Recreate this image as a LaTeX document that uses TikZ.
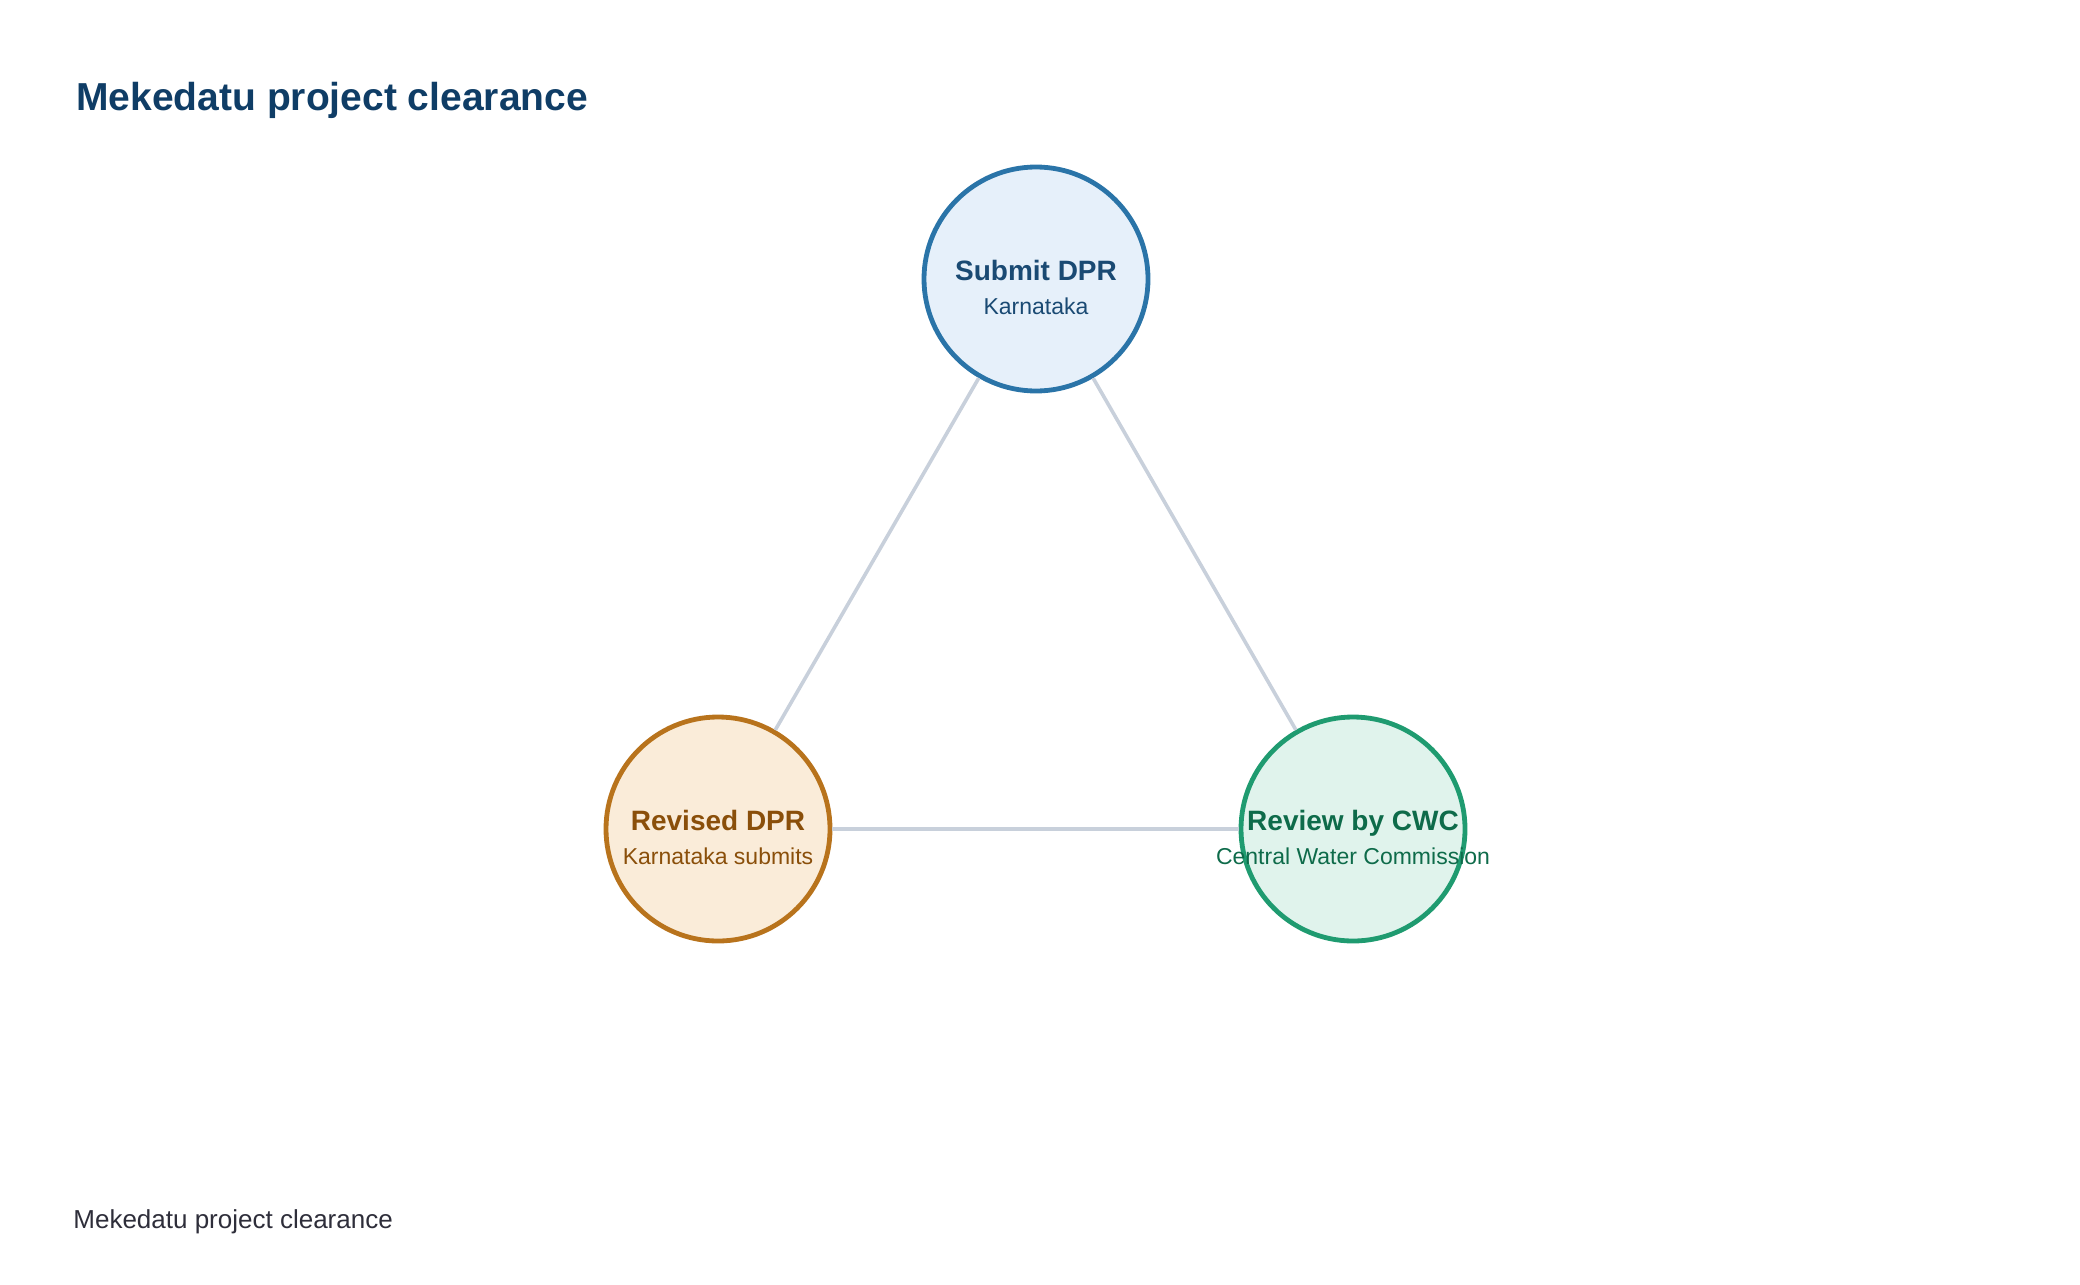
\documentclass[tikz,border=0pt]{standalone}
\usepackage{fontspec}
\setmainfont{Liberation Sans}
\definecolor{titleblue}{HTML}{0F3D66}
\definecolor{footgray}{HTML}{2E2E3A}
\definecolor{edgegray}{HTML}{C8D0DB}
\definecolor{dprfill}{HTML}{E6F0FA}
\definecolor{dprline}{HTML}{2A74A8}
\definecolor{dprtext}{HTML}{1A4A73}
\definecolor{revfill}{HTML}{FAECD9}
\definecolor{revline}{HTML}{B8731C}
\definecolor{revtext}{HTML}{8A4F0A}
\definecolor{cwcfill}{HTML}{E0F3EC}
\definecolor{cwcline}{HTML}{1F9B70}
\definecolor{cwctext}{HTML}{0E6B4A}
\tikzset{
	stage/.style = {circle, minimum size=112pt, inner sep=0pt, line width=2.4pt},
	headtext/.style = {anchor=base, inner sep=0pt, font=\fontsize{14}{16}\selectfont\bfseries},
	subtext/.style = {anchor=base, inner sep=0pt, font=\fontsize{11.5}{13}\selectfont},
	link/.style = {draw=edgegray, line width=1.8pt}
}
\begin{document}
\begin{tikzpicture}[x=0.5pt, y=-0.5pt]
	      	\useasboundingbox (0,0) rectangle (2080,1284);
	      	\node[anchor=base west, inner sep=0pt, text=titleblue, font=\fontsize{19.5}{22}\selectfont\bfseries] (title) at (76,111) {Mekedatu project clearance};
	      	\node[stage, draw=dprline, fill=dprfill] (DPR) at (1036,279) {};
	      	\node[stage, draw=revline, fill=revfill] (REV) at (718,829) {};
	      	\node[stage, draw=cwcline, fill=cwcfill] (CWC) at (1353,829) {};
	      	\draw[link] (DPR) -- (REV);
	      	\draw[link] (DPR) -- (CWC);
	      	\draw[link] (REV) -- (CWC);
	      	\node[headtext, text=dprtext] (DPR-h) at (1036,280) {Submit DPR};
	      	\node[subtext, text=dprtext] (DPR-s) at (1036,314) {Karnataka};
	      	\node[headtext, text=revtext] (REV-h) at (718,830) {Revised DPR};
	      	\node[subtext, text=revtext] (REV-s) at (718,864) {Karnataka submits};
	      	\node[headtext, text=cwctext] (CWC-h) at (1353,830) {Review by CWC};
	      	\node[subtext, text=cwctext] (CWC-s) at (1353,864) {Central Water Commission};
	      	\node[anchor=base west, inner sep=0pt, text=footgray, font=\fontsize{13}{15}\selectfont] (foot) at (73,1228) {Mekedatu project clearance};
	      \end{tikzpicture}
\end{document}
